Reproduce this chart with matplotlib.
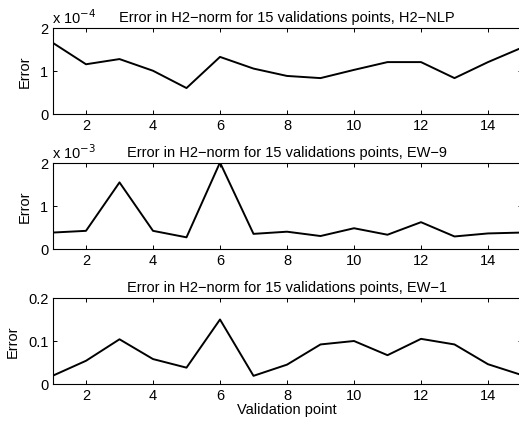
import numpy as np
import matplotlib
matplotlib.use("Agg")
import matplotlib.pyplot as plt
from matplotlib.ticker import FuncFormatter

plt.rcParams['font.family'] = ['Liberation Sans', 'DejaVu Sans']
plt.rcParams['font.size'] = 10.5

points = np.arange(1, 16)

err_h2nlp = [1.65e-4, 1.15e-4, 1.27e-4, 1.0e-4, 0.6e-4, 1.32e-4, 1.05e-4, 0.88e-4,
             0.83e-4, 1.02e-4, 1.2e-4, 1.2e-4, 0.83e-4, 1.2e-4, 1.53e-4]
err_ew9 = [0.38e-3, 0.42e-3, 1.54e-3, 0.42e-3, 0.27e-3, 2.0e-3, 0.35e-3, 0.40e-3,
           0.30e-3, 0.48e-3, 0.33e-3, 0.62e-3, 0.29e-3, 0.36e-3, 0.38e-3]
err_ew1 = [0.019, 0.054, 0.104, 0.058, 0.038, 0.15, 0.019, 0.045,
           0.092, 0.1, 0.067, 0.105, 0.092, 0.046, 0.021]

titles = ["Error in H2\u2212norm for 15 validations points, H2\u2212NLP",
          "Error in H2\u2212norm for 15 validations points, EW\u22129",
          "Error in H2\u2212norm for 15 validations points, EW\u22121"]
series = [err_h2nlp, err_ew9, err_ew1]
scales = [1e-4, 1e-3, None]
exps = ["-4", "-3", None]
ymax = [2e-4, 2e-3, 0.2]

fig = plt.figure(figsize=(5.19, 4.27), dpi=100)
W, H = 519, 427
left, right = 52.5, 521.5
tops = [28.5, 163.5, 299]
bottoms = [115, 250, 385]

for i in range(3):
    ax = fig.add_axes([left / W, 1 - bottoms[i] / H, (right - left) / W,
                       (bottoms[i] - tops[i]) / H])
    ax.plot(points, series[i], color='black', lw=1.4)
    ax.set_xlim(1, 15)
    ax.set_ylim(0, ymax[i])
    ax.set_xticks(range(2, 15, 2))
    ax.set_yticks([0, ymax[i] / 2, ymax[i]])
    if scales[i] is not None:
        s = scales[i]
        ax.yaxis.set_major_formatter(FuncFormatter(lambda v, p, s=s: f"{v / s:g}"))
        ax.text(0.0, 1.015, r"x 10$^{%s}$" % exps[i], transform=ax.transAxes,
                ha='left', va='bottom', fontsize=10.5)
    else:
        ax.yaxis.set_major_formatter(FuncFormatter(lambda v, p: f"{v:g}"))
    ax.tick_params(direction='in', top=True, right=True, length=3, width=0.7,
                   labelsize=10.5, pad=3)
    for sp in ax.spines.values():
        sp.set_linewidth(0.8)
    ax.set_ylabel("Error", fontsize=10.5, labelpad=6)
    ax.set_title(titles[i], fontsize=10.5, pad=5)
    if i == 2:
        ax.set_xlabel("Validation point", fontsize=10.5, labelpad=0)

fig.savefig("out.png", dpi=100)
